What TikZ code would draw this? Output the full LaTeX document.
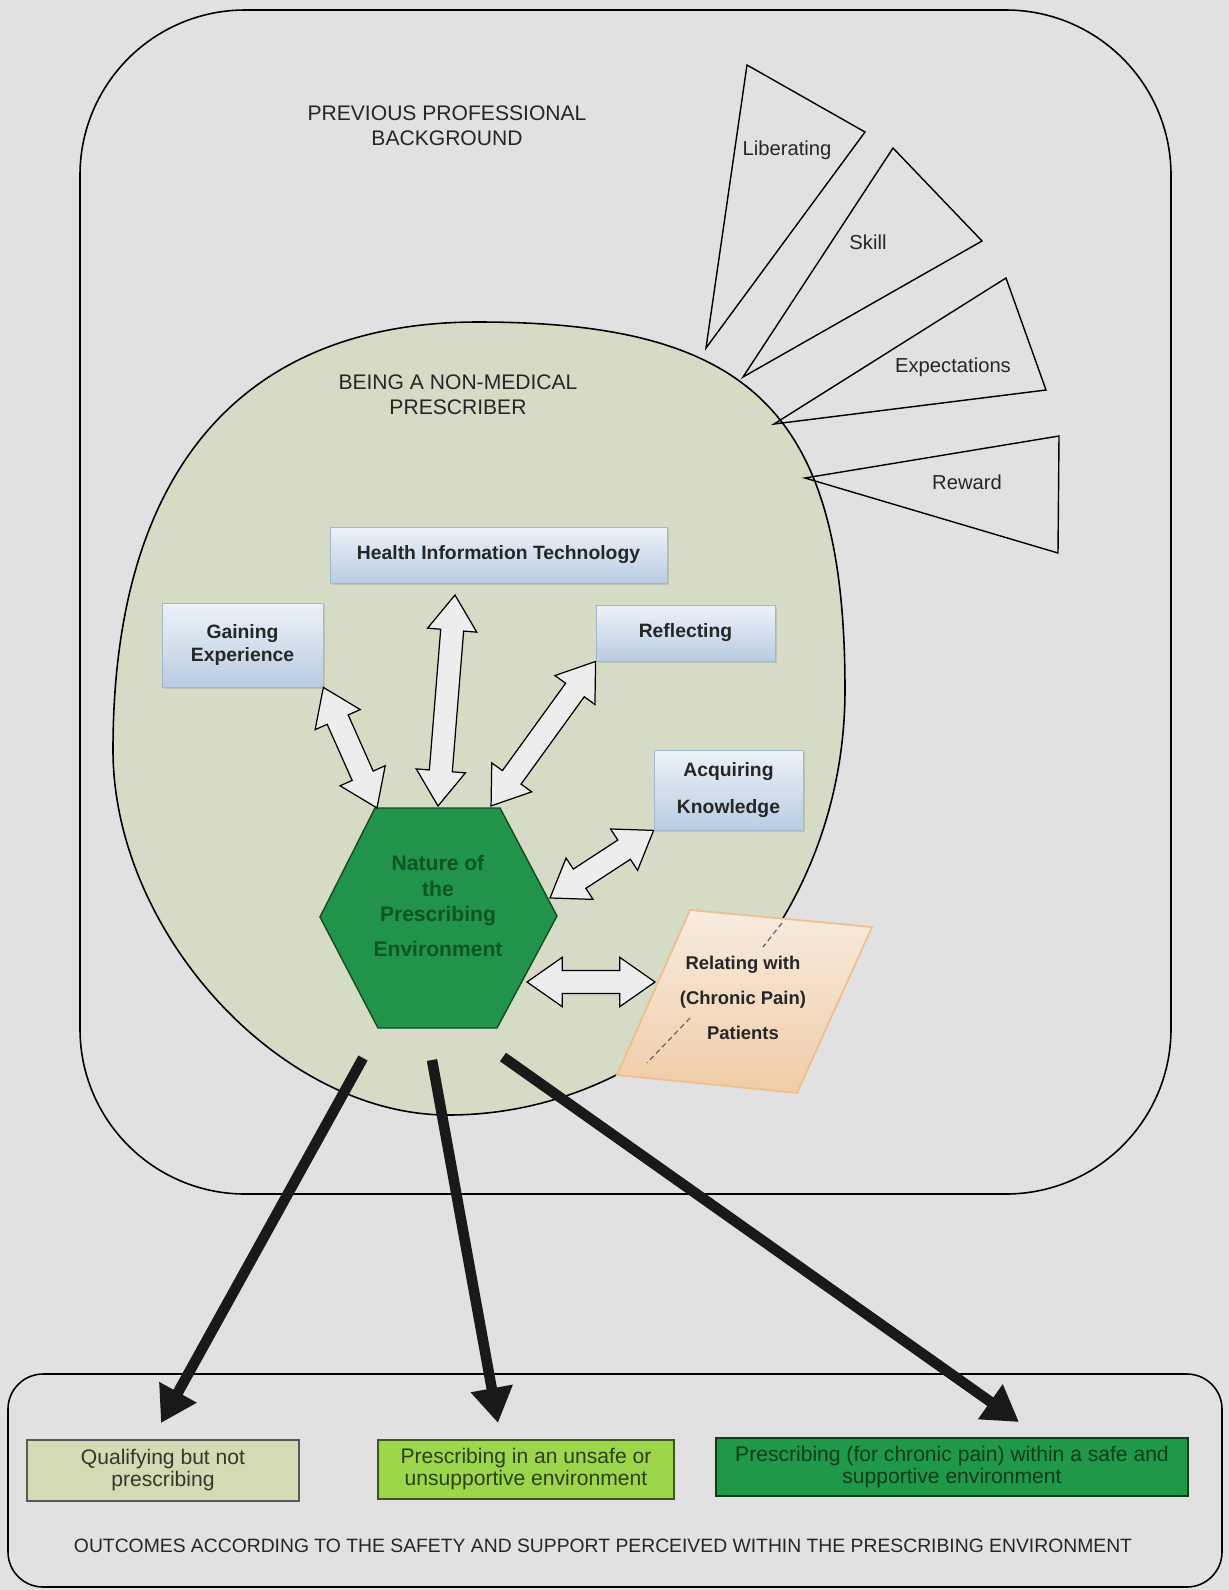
\documentclass[tikz,border=0pt]{standalone}
\usepackage{fontspec}
\setmainfont{Liberation Sans}
\usetikzlibrary{calc,shapes.arrows,arrows.meta,shadows}

\definecolor{pagegrey}{HTML}{E1E1E1}
\definecolor{sage}{HTML}{D6DBC6}
\definecolor{boxtop}{HTML}{EDF2F8}
\definecolor{boxbot}{HTML}{B9CCE2}
\definecolor{boxedge}{HTML}{A3B6CC}
\definecolor{hexgreen}{HTML}{22934A}
\definecolor{hexedge}{HTML}{124A24}
\definecolor{hextext}{HTML}{0C5524}
\definecolor{peachtop}{HTML}{F7EBDF}
\definecolor{peachbot}{HTML}{F1CCA6}
\definecolor{peachedge}{HTML}{EBC08E}
\definecolor{olive}{HTML}{D4DAB3}
\definecolor{lime}{HTML}{9BD64B}
\definecolor{deepgreen}{HTML}{1F9848}
\definecolor{arrowfill}{HTML}{EDEDED}

\tikzset{
  infobox/.style={draw=boxedge, top color=boxtop, bottom color=boxbot,
    font=\fontsize{11}{13}\selectfont\bfseries, text=black!85, align=center,
    inner sep=2pt, drop shadow={opacity=0.25, shadow xshift=1pt, shadow yshift=-1pt}},
  outcome/.style={line width=0.9pt, align=center,
    font=\fontsize{12}{12.5}\selectfont, inner sep=2pt},
  twoway/.style={double arrow, draw=black, fill=arrowfill, line width=0.7pt,
    inner sep=6.2pt, double arrow head extend=7.5pt, double arrow tip angle=70},
  bigarrow/.style={line width=6pt, draw=black!90, -{Triangle[length=20pt,width=23pt]}},
  petal/.style={draw=black, line width=0.8pt},
  petallabel/.style={font=\fontsize{11.5}{13}\selectfont, text=black!85},
  caplabel/.style={font=\fontsize{12}{14}\selectfont, align=center, text=black!85},
}

\begin{document}
\begin{tikzpicture}[x=0.02cm, y=-0.02cm]
\useasboundingbox (0,0) rectangle (1229,1590);
\fill[pagegrey] (0,0) rectangle (1229,1590);

% frame of the background and the prescriber egg
\draw[line width=0.9pt, rounded corners=94pt] (80,10) rectangle (1171,1194);
\draw[line width=0.9pt, fill=sage] (478,322) .. controls (753,322) and (845,414) .. (845,690)
  .. controls (845,925) and (667,1115) .. (448,1115)
  .. controls (280,1115) and (113,932) .. (113,750)
  .. controls (113,472) and (241,322) .. (478,322) -- cycle;

\node[caplabel] (prevbg) at (447,126) {PREVIOUS PROFESSIONAL\\BACKGROUND};
\node[caplabel] (beingnmp) at (458,395) {BEING A NON-MEDICAL\\PRESCRIBER};

% petals
\draw[petal] (747,65) -- (865,132) -- (706,348) -- cycle;
\node[petallabel] (liberating) at (787,150) {Liberating};
\draw[petal] (893,148) -- (982,241) -- (743,377) -- cycle;
\node[petallabel] (skill) at (868,242) {Skill};
\draw[petal] (1006,278) -- (1046,390) -- (774,424) -- cycle;
\node[petallabel] (expect) at (953,367) {Expectations};
\draw[petal] (1059,436) -- (1058,553) -- (805,478) -- cycle;
\node[petallabel] (reward) at (967,482) {Reward};

% categories
\node[infobox, minimum width=6.74cm, minimum height=1.12cm] (hit) at (498.5,555) {Health Information Technology};
\node[infobox, minimum width=3.22cm, minimum height=1.68cm] (gain) at (242.5,645) {Gaining\\Experience};
\node[infobox, minimum width=3.58cm, minimum height=1.12cm] (refl) at (685.5,633) {Reflecting};
\node[infobox, minimum width=2.98cm, minimum height=1.6cm] (acq) at (728.5,790) {Acquiring\\[8pt]Knowledge};

% core category
\draw[fill=hexgreen, draw=hexedge, line width=0.8pt] (375,808) -- (500,808) -- (557,916)
  -- (497,1028) -- (378,1028) -- (320,917) -- cycle;
\node[font=\fontsize{12}{14.5}\selectfont\bfseries, text=hextext, align=center] (hex) at (438,906)
  {Nature of\\the\\Prescribing\\[5pt]Environment};

\draw[draw=peachedge, top color=peachtop, bottom color=peachbot, line width=1pt]
  (690,910) -- (872,927) -- (797,1093) -- (617,1075) -- cycle;
\draw[densely dashed, black!60, line width=0.7pt] (782,923) -- (763,947);
\draw[densely dashed, black!60, line width=0.7pt] (690,1018) -- (647,1063);
\node[font=\fontsize{10.5}{20}\selectfont\bfseries, align=center, text=black!85] (relate) at (743,998)
  {Relating with\\(Chronic Pain)\\Patients};

\coordinate (hexGain) at (377,808);
\coordinate (hexHit) at (438,806);
\coordinate (hexRefl) at (491,806);
\coordinate (hexAcq) at (550,898);
\coordinate (hexRel) at (527,982);
\coordinate (hitFoot) at (455,595);
\coordinate (relEdge) at (655,982);

% two way links
\path let \p1=(hexGain), \p2=(gain.south east), \n1={atan2(\y2-\y1,\x2-\x1)}, \n2={veclen(\x2-\x1,\y2-\y1)}
  in node[twoway, minimum height=\n2, rotate=\n1] (gainlink) at ($(\p1)!0.5!(\p2)$) {};
\path let \p1=(hexHit), \p2=(hitFoot), \n1={atan2(\y2-\y1,\x2-\x1)}, \n2={veclen(\x2-\x1,\y2-\y1)}
  in node[twoway, minimum height=\n2, rotate=\n1] (hitlink) at ($(\p1)!0.5!(\p2)$) {};
\path let \p1=(hexRefl), \p2=(refl.south west), \n1={atan2(\y2-\y1,\x2-\x1)}, \n2={veclen(\x2-\x1,\y2-\y1)}
  in node[twoway, minimum height=\n2, rotate=\n1] (refllink) at ($(\p1)!0.5!(\p2)$) {};
\path let \p1=(hexAcq), \p2=(acq.south west), \n1={atan2(\y2-\y1,\x2-\x1)}, \n2={veclen(\x2-\x1,\y2-\y1)}
  in node[twoway, minimum height=\n2, rotate=\n1] (acqlink) at ($(\p1)!0.5!(\p2)$) {};
\path let \p1=(hexRel), \p2=(relEdge), \n1={atan2(\y2-\y1,\x2-\x1)}, \n2={veclen(\x2-\x1,\y2-\y1)}
  in node[twoway, minimum height=\n2, rotate=\n1] (rellink) at ($(\p1)!0.5!(\p2)$) {};

% outcomes
\draw[line width=0.9pt, rounded corners=20pt] (8,1374) rectangle (1222,1587);
\node[outcome, fill=olive, draw=black!65, text=black!75!olive, minimum width=5.44cm, minimum height=1.22cm]
  (qual) at (163,1470.5) {Qualifying but not\\prescribing};
\node[outcome, fill=lime, draw=black!60!lime, text=black!70!lime, minimum width=5.92cm, minimum height=1.18cm]
  (unsafe) at (526,1469.5) {Prescribing in an unsafe or\\unsupportive environment};
\node[outcome, fill=deepgreen, draw=black!60!deepgreen, text=black!60!deepgreen, minimum width=9.44cm, minimum height=1.16cm]
  (safe) at (952,1467) {Prescribing (for chronic pain) within a safe and\\supportive environment};
\node[font=\fontsize{11}{13}\selectfont, text=black!85] (outcomes) at (603,1546)
  {OUTCOMES ACCORDING TO THE SAFETY AND SUPPORT PERCEIVED WITHIN THE PRESCRIBING ENVIRONMENT};

\coordinate (outA) at (363,1058);
\coordinate (outB) at (432,1060);
\coordinate (outC) at (503,1057);
\coordinate (inA) at (161,1423);
\coordinate (inB) at (498,1423);
\coordinate (inC) at (1019,1422);
\draw[bigarrow] (outA) -- (inA);
\draw[bigarrow] (outB) -- (inB);
\draw[bigarrow] (outC) -- (inC);
\end{tikzpicture}
\end{document}
